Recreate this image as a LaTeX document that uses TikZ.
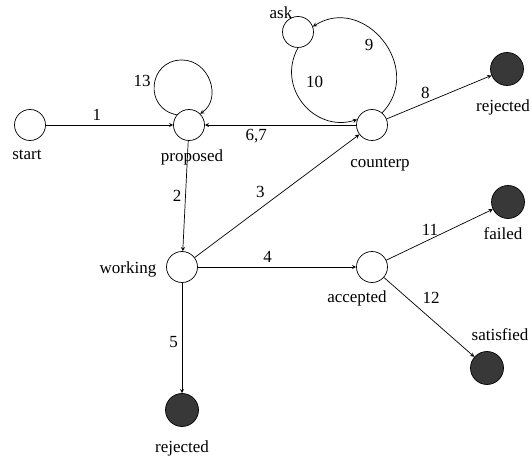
\documentclass[tikz,border=0pt]{standalone}
\usepackage{fontspec}
\setmainfont{Liberation Serif}
\begin{document}
\begin{tikzpicture}[x=0.03cm, y=-0.03cm, font=\fontsize{14.5}{17}\selectfont, line join=round, line cap=round, >=stealth,
		vertex/.style={circle, draw, line width=0.6pt, minimum size=0.93cm, inner sep=0pt},
		sink/.style={vertex, fill=black!78, minimum size=0.99cm},
		trans/.style={->, line width=0.6pt}]
			\useasboundingbox (0,0) rectangle (532,459);
			% states
			\node[vertex] (start) at (30,125) {};
			\node[vertex] (proposed) at (189,125) {};
			\node[vertex] (ask) at (298,32) {};
			\node[vertex] (counterp) at (372,125) {};
			\node[vertex] (working) at (182,267) {};
			\node[vertex] (accepted) at (372,267) {};
			\node[sink] (rejtop) at (507,69) {};
			\node[sink] (failed) at (508,202) {};
			\node[sink] (satisfied) at (487,368) {};
			\node[sink] (rejbot) at (182,410) {};
			% state names
			\node (tstart) at (27,155) {start};
			\node (tproposed) at (192,157) {proposed};
			\node (task) at (281,13) {ask};
			\node (tcounterp) at (380,165) {counterp};
			\node (tworking) at (128,269) {working};
			\node (taccepted) at (357,298) {accepted};
			\node (trejtop) at (503,107) {rejected};
			\node (tfailed) at (503,234) {failed};
			\node (tsatisfied) at (500,335) {satisfied};
			\node (trejbot) at (182,448) {rejected};
			% transitions
			\draw[trans] (start) -- node[above, pos=.4] (l1) {1} (proposed);
			\draw[trans] (proposed) -- node[left, pos=.5] (l2) {2} (working);
			\draw[trans] (working) -- node[above left, pos=.45] (l3) {3} (counterp);
			\draw[trans] (working) -- node[above, pos=.44] (l4) {4} (accepted);
			\draw[trans] (working) -- node[left, pos=.54] (l5) {5} (rejbot);
			\draw[trans] (counterp) -- node[below, pos=.66] (l67) {6,7} (proposed);
			\draw[trans] (counterp) -- node[above, pos=.37] (l8) {8} (rejtop);
			\draw[trans] (counterp.50) .. controls (425,68) and (364,-6) .. node[below left, pos=.55] (l9) {9} (ask.20);
			\draw[trans] (ask.south) .. controls (276,87) and (314,133) .. node[above right, xshift=5pt, pos=.38] (l10) {10} (counterp.160);
			\draw[trans] (accepted) -- node[above, pos=.41] (l11) {11} (failed);
			\draw[trans] (accepted) -- node[above right, pos=.38] (l12) {12} (satisfied);
			\draw[trans] (proposed.140) .. controls (143.5,108.8) and (148,60) .. node[left, pos=.55] (l13) {13} (182,60)
				.. controls (209.4,60) and (222.4,98.3) .. (proposed.45);
		\end{tikzpicture}
\end{document}
